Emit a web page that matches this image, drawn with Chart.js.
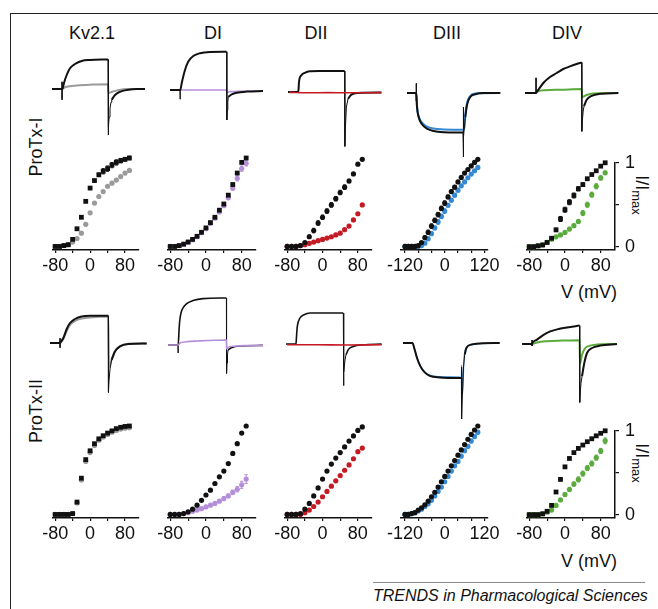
<!DOCTYPE html>
<html>
<head>
<meta charset="utf-8">
<script src="https://cdn.jsdelivr.net/npm/chart.js@4.4.1/dist/chart.umd.min.js"></script>
<style>
  html, body { margin: 0; padding: 0; background: #fff; }
  #fig { position: relative; width: 658px; height: 609px; overflow: hidden;
         font-family: "Liberation Sans", Arial, Helvetica, sans-serif; color: #111; }
  #fig canvas { position: absolute; }
  .frame { position: absolute; left: 10px; top: 13px; width: 660px; height: 610px;
           border-left: 1.5px solid #222; border-top: 1.5px solid #222; }
  .txt { position: absolute; transform: translate(-50%, -50%); white-space: nowrap; line-height: 1; font-size: 18px; }
  .rotl { transform: translate(-50%, -50%) rotate(-90deg); }
  .rotr { transform: translate(-50%, -50%) rotate(90deg); }
  .rotr sub { font-size: 13px; vertical-align: -4px; }
  .trends { position: absolute; left: 373px; top: 582px; width: 272px; border-top: 1px solid #888;
            font-style: italic; font-size: 16px; text-align: center; padding-top: 4px; white-space: nowrap; }
</style>
</head>
<body>
<div id="fig">
  <div class="frame"></div>
  <div class="txt" style="left:92px;top:33px">Kv2.1</div>
  <div class="txt" style="left:213px;top:33px">DI</div>
  <div class="txt" style="left:316px;top:33px">DII</div>
  <div class="txt" style="left:447px;top:33px">DIII</div>
  <div class="txt" style="left:567px;top:33px">DIV</div>
  <div class="txt rotl" style="left:36px;top:147px">ProTx-I</div>
  <div class="txt rotl" style="left:36px;top:411px">ProTx-II</div>
  <div class="txt rotr" style="left:640px;top:195px">I/I<sub>max</sub></div>
  <div class="txt rotr" style="left:640px;top:463px">I/I<sub>max</sub></div>
  <div class="txt" style="left:589px;top:292px">V (mV)</div>
  <div class="txt" style="left:589px;top:561px">V (mV)</div>
  <div class="trends">TRENDS in Pharmacological Sciences</div>
</div>
<script>
// test potentials (mV)
const volts = [-80, -70, -60, -50, -40, -30, -20, -10, 0, 10, 20, 30, 40, 50, 60, 70, 80, 90];
const voltsDIII = [-120, -110, -100, -90, -80, -70, -60, -50, -40, -30, -20, -10, 0, 10, 20, 30, 40, 50, 60, 70, 80, 90, 100];

// I/Imax, ProTx-I row (control = black, toxin = colour)
const kvICtrl = [0, 0, 0.01, 0.02, 0.08, 0.2, 0.33, 0.51, 0.66, 0.745, 0.81, 0.85, 0.88, 0.92, 0.95, 0.97, 0.985, 1.0];
const kvITox = [0, 0, 0.01, 0.02, 0.05, 0.09, 0.15, 0.25, 0.38, 0.49, 0.565, 0.62, 0.68, 0.715, 0.75, 0.79, 0.83, 0.86];
const kvICtrlErr = [0, 0, 0, 0, 0, 0, 0, 0, 0, 0, 0.02, 0.03, 0.03, 0.03, 0.03, 0.025, 0.02, 0.02];
const diICtrl = [0, 0, 0.01, 0.026, 0.05, 0.08, 0.115, 0.16, 0.21, 0.27, 0.33, 0.41, 0.48, 0.58, 0.70, 0.83, 0.95, 1.0];
const diITox = [0, 0, 0.01, 0.025, 0.048, 0.075, 0.11, 0.155, 0.2, 0.26, 0.32, 0.39, 0.46, 0.55, 0.66, 0.77, 0.88, 0.94];
const diIToxErr = [0, 0, 0, 0, 0, 0, 0, 0, 0, 0, 0, 0, 0.015, 0.02, 0.025, 0.03, 0.03, 0.03];
const diiICtrl = [0, 0, 0, 0.01, 0.045, 0.11, 0.18, 0.265, 0.33, 0.40, 0.47, 0.54, 0.61, 0.67, 0.74, 0.82, 0.93, 0.985];
const diiITox = [0, 0, 0, 0.01, 0.02, 0.035, 0.05, 0.065, 0.08, 0.095, 0.11, 0.13, 0.15, 0.19, 0.23, 0.30, 0.37, 0.47];
const diiICtrlErr = [0, 0, 0, 0, 0, 0.02, 0.025, 0.025, 0.025, 0.025, 0.025, 0.025, 0.025, 0.025, 0.02, 0, 0, 0];
const diiiICtrl = [0, 0, 0, 0, 0.01, 0.045, 0.10, 0.16, 0.23, 0.295, 0.36, 0.43, 0.49, 0.56, 0.62, 0.67, 0.73, 0.78, 0.83, 0.87, 0.91, 0.95, 0.985];
const diiiITox = [0, 0, 0, 0, 0, 0.01, 0.037, 0.087, 0.144, 0.21, 0.277, 0.34, 0.40, 0.466, 0.523, 0.58, 0.636, 0.686, 0.73, 0.777, 0.818, 0.856, 0.894];
const diiiICtrlErr = [0, 0, 0, 0, 0, 0, 0.02, 0.025, 0.025, 0.025, 0.025, 0.025, 0.025, 0.02, 0.02, 0.02, 0, 0, 0, 0, 0, 0, 0];
const diiiIToxErr = [0, 0, 0, 0, 0, 0, 0, 0.02, 0.02, 0.02, 0.025, 0.025, 0.025, 0.02, 0.02, 0.02, 0.02, 0, 0, 0, 0, 0, 0];
const divICtrl = [0, 0, 0.01, 0.02, 0.05, 0.1, 0.2, 0.33, 0.44, 0.53, 0.61, 0.69, 0.74, 0.81, 0.86, 0.905, 0.96, 1.0];
const divITox = [0, 0, 0.01, 0.02, 0.05, 0.088, 0.117, 0.14, 0.17, 0.21, 0.25, 0.30, 0.40, 0.50, 0.62, 0.72, 0.82, 0.88];
const divICtrlErr = [0, 0, 0, 0, 0, 0, 0.02, 0.03, 0.03, 0.03, 0.03, 0.025, 0.02, 0, 0, 0, 0, 0];
const divIToxErr = [0, 0, 0, 0, 0, 0, 0, 0, 0, 0.02, 0.02, 0.025, 0.03, 0.03, 0.03, 0.03, 0.025, 0.02];

// I/Imax, ProTx-II row
const kvIICtrl = [0, 0, 0, 0, 0.01, 0.14, 0.41, 0.62, 0.72, 0.8, 0.855, 0.89, 0.92, 0.945, 0.97, 0.985, 0.995, 1.0];
const kvIITox = [0, 0, 0, 0, 0.01, 0.13, 0.39, 0.6, 0.7, 0.78, 0.84, 0.875, 0.905, 0.93, 0.95, 0.965, 0.975, 0.98];
const diIICtrl = [0, 0, 0, 0.01, 0.03, 0.06, 0.105, 0.16, 0.22, 0.275, 0.35, 0.425, 0.49, 0.575, 0.69, 0.80, 0.92, 1.0];
const diIITox = [0, 0, 0, 0.01, 0.02, 0.035, 0.05, 0.065, 0.085, 0.105, 0.125, 0.15, 0.18, 0.21, 0.25, 0.285, 0.335, 0.40];
const diIIToxErr = [0, 0, 0, 0, 0, 0, 0, 0, 0, 0, 0, 0.015, 0.02, 0.02, 0.025, 0.03, 0.04, 0.05];
const diiIICtrl = [0, 0, 0, 0.01, 0.06, 0.125, 0.21, 0.3, 0.4, 0.49, 0.57, 0.637, 0.70, 0.764, 0.83, 0.888, 0.95, 0.99];
const diiIITox = [0, 0, 0, 0, 0.02, 0.05, 0.09, 0.14, 0.2, 0.26, 0.32, 0.38, 0.44, 0.5, 0.56, 0.63, 0.71, 0.75];
const diiiIICtrl = [0, 0, 0.01, 0.02, 0.05, 0.075, 0.11, 0.15, 0.2, 0.25, 0.31, 0.37, 0.43, 0.49, 0.55, 0.61, 0.67, 0.73, 0.79, 0.85, 0.905, 0.955, 1.0];
const diiiIITox = [0, 0, 0.01, 0.02, 0.04, 0.06, 0.09, 0.12, 0.16, 0.21, 0.26, 0.31, 0.37, 0.43, 0.49, 0.55, 0.6, 0.66, 0.72, 0.77, 0.83, 0.88, 0.93];
const diiiIIToxErr = [0, 0, 0, 0, 0, 0, 0, 0, 0, 0, 0, 0, 0, 0.015, 0.015, 0.015, 0.02, 0.02, 0.02, 0.02, 0.02, 0.02, 0.02];
const divIICtrl = [0, 0, 0, 0.01, 0.04, 0.11, 0.27, 0.42, 0.57, 0.67, 0.74, 0.79, 0.83, 0.87, 0.905, 0.94, 0.97, 1.0];
const divIITox = [0, 0, 0, 0.01, 0.03, 0.055, 0.11, 0.175, 0.24, 0.3, 0.365, 0.42, 0.49, 0.555, 0.61, 0.68, 0.76, 0.88];
const divIIToxErr = [0, 0, 0, 0, 0, 0, 0, 0, 0.02, 0.025, 0.025, 0.03, 0.03, 0.03, 0.03, 0.03, 0.03, 0.035];

// current traces: [time, relative current]; null breaks the thick line where the thin tail spike is
const kvTrICtrl = [[0, 0], [10, 0], [10.6, 0.01], [12, 0.15], [14.7, 0.35], [18, 0.52], [23, 0.625], [29.7, 0.7], [38, 0.725], [56, 0.74], [57, null], [59.7, -0.27], [63, -0.15], [68, -0.07], [75, -0.025], [85, 0], [93, 0]];
const kvTrICtrlThin = [[10, 0.18], [10.05, -0.27], [10.3, null], [56, 0.74], [56.15, -1.15], [56.6, -0.95], [57.2, -0.7], [58, -0.48], [59, -0.33], [59.7, -0.27]];
const kvTrITox = [[0, 0], [10, 0], [12, 0.03], [16, 0.06], [25, 0.09], [40, 0.11], [56, 0.12], [56.5, -0.1], [60, -0.07], [66, -0.03], [75, 0], [93, 0]];
const diTrICtrl = [[0, 0], [10.3, 0], [11.7, 0.17], [15, 0.5], [18.3, 0.71], [23.3, 0.85], [30, 0.92], [40, 0.95], [56.7, 0.955], [57.5, null], [58.3, -0.17], [61.7, -0.11], [66.7, -0.07], [76.7, -0.04], [93, -0.025]];
const diTrICtrlThin = [[10, 0], [10.05, -0.23], [10.3, 0], [10.4, null], [56.7, 0.955], [56.85, -0.75], [57.3, -0.5], [57.8, -0.3], [58.3, -0.17]];
const diTrITox = [[0, 0], [56.7, 0], [57, -0.06], [60, -0.04], [70, -0.03], [93, -0.025]];
const diiTrICtrl = [[0, 0], [10, 0], [10.5, 0.05], [11, 0.25], [13.4, 0.42], [16.7, 0.48], [21.7, 0.52], [31.7, 0.525], [56.7, 0.525], [57.5, null], [60, -0.17], [63.4, -0.065], [70, -0.025], [93.4, -0.015]];
const diiTrICtrlThin = [[56.7, 0.525], [56.85, -1.36], [57.4, -0.9], [58.4, -0.375], [60, -0.17]];
const diiTrITox = [[1, -0.01], [20, -0.02], [40, -0.015], [60, -0.02], [93.4, -0.015]];
const diiiTrICtrl = [[0, 0], [9.3, 0], [10, -0.35], [11.6, -0.6], [15, -0.78], [20, -0.89], [26.6, -0.95], [36.6, -0.98], [56, -0.99], [57, null], [58.3, -0.6], [60, -0.3], [63.3, -0.1], [68.3, -0.03], [76.6, 0], [93.3, 0]];
const diiiTrICtrlThin = [[9.3, 0.24], [9.35, -0.2], [9.6, null], [56, -0.99], [56.1, -0.35], [56.3, -1.6], [57, -1.1], [57.8, -0.75], [58.3, -0.6]];
const diiiTrITox = [[0, 0], [9.3, 0], [10, -0.33], [11.6, -0.57], [15, -0.74], [20, -0.84], [26.6, -0.89], [36.6, -0.91], [56, -0.92], [57.5, -0.85], [58.3, -0.55], [60, -0.25], [63.3, -0.07], [68.3, -0.01], [93.3, 0]];
const divTrICtrl = [[0, 0], [11, 0], [11.5, 0.02], [13.3, 0.08], [18.3, 0.25], [25, 0.4], [31.7, 0.5], [38.3, 0.6], [45, 0.665], [51.7, 0.725], [56.7, 0.765], [57.5, null], [59, -0.33], [61.7, -0.17], [66.7, -0.07], [75, -0.02], [93.3, 0]];
const divTrICtrlThin = [[11, 0.38], [11.05, 0], [11.3, null], [56.7, 0.765], [56.85, -0.96], [57.3, -0.7], [58.2, -0.45], [59, -0.33]];
const divTrITox = [[0, 0], [11, 0], [13, 0.04], [20, 0.07], [35, 0.08], [56.7, 0.1], [57, -0.1], [58.3, -0.09], [61.7, -0.05], [68, -0.015], [93.3, 0]];

const kvTrIICtrl = [[0, 0], [10, 0], [10.5, 0.02], [13.3, 0.125], [16.7, 0.35], [20, 0.5], [25, 0.6], [31.7, 0.665], [40, 0.68], [58.3, 0.68], [59, null], [61.7, -0.42], [65, -0.21], [70, -0.085], [78.3, -0.025], [96.7, -0.01]];
const kvTrIICtrlThin = [[10, 0.12], [10.05, -0.12], [10.3, null], [58.3, 0.68], [58.45, -1.235], [59, -0.95], [60, -0.65], [61.7, -0.42]];
const kvTrIITox = [[0, 0], [10, 0], [13.3, 0.1], [16.7, 0.3], [20, 0.45], [25, 0.55], [31.7, 0.61], [40, 0.64], [58.3, 0.66], [59, -0.6], [61.7, -0.4], [65, -0.2], [70, -0.08], [78.3, -0.02], [96.7, -0.01]];
const diTrIICtrl = [[0, 0], [10.2, 0], [11, 0.35], [11.7, 0.6], [13, 0.8], [14.4, 0.9], [18.4, 1.03], [25, 1.11], [35, 1.16], [58.4, 1.175], [59, null], [60, -0.125], [63.4, -0.07], [71.7, -0.025], [95, -0.01]];
const diTrIICtrlThin = [[10, 0], [10.05, -0.2], [10.2, 0], [10.3, null], [58.4, 1.175], [58.55, -0.71], [59, -0.45], [59.5, -0.25], [60, -0.125]];
const diTrIITox = [[0, 0], [10, 0], [12, 0.05], [18, 0.08], [30, 0.1], [58.4, 0.125], [58.6, -0.1], [60, -0.06], [66, -0.03], [80, -0.015], [95, -0.01]];
const diiTrIICtrl = [[0, 0], [10, 0], [10.3, 0.1], [10.8, 0.3], [11.3, 0.44], [14, 0.65], [18, 0.73], [24, 0.775], [44, 0.775], [57.3, 0.775], [58, null], [60, -0.27], [62.3, -0.14], [67.3, -0.06], [77.3, -0.02], [95.7, 0]];
const diiTrIICtrlThin = [[57.3, 0.775], [57.45, -1.04], [58, -0.7], [59, -0.4], [60, -0.27]];
const diiTrIITox = [[1, -0.02], [30, -0.02], [60, -0.025], [95.7, -0.02]];
const diiiTrIICtrl = [[0, 0], [9.4, 0], [11.7, -0.17], [14, -0.375], [17.4, -0.585], [21.7, -0.735], [26.7, -0.82], [36.7, -0.86], [56.7, -0.875], [58.4, -0.875], [59, null], [61.7, -0.29], [63.4, -0.125], [68.4, -0.04], [76.7, -0.01], [96.7, 0]];
const diiiTrIICtrlThin = [[58.4, -0.875], [58.5, -0.6], [58.7, -1.9], [59.5, -1.2], [60.5, -0.6], [61.7, -0.29]];
const diiiTrIITox = [[0, 0], [9.4, 0], [11.7, -0.16], [14, -0.36], [17.4, -0.57], [21.7, -0.72], [26.7, -0.8], [36.7, -0.84], [56.7, -0.855], [58.4, -0.86], [58.6, -0.55], [59.5, -1.3], [61, -0.4], [63.4, -0.12], [68.4, -0.03], [96.7, 0]];
const divTrIICtrl = [[0, 0], [10, 0], [10.5, 0.03], [15, 0.11], [21.6, 0.23], [28.3, 0.315], [36.6, 0.375], [45, 0.415], [57.6, 0.46], [58.5, null], [60, -0.81], [62.3, -0.475], [65, -0.225], [70, -0.1], [78.3, -0.04], [95, 0]];
const divTrIICtrlThin = [[10, 0.1], [10.05, -0.05], [10.3, null], [57.6, 0.46], [57.75, -1.46], [58.3, -1.2], [59, -0.98], [60, -0.81]];
const divTrIITox = [[0, 0], [10, 0], [15, 0.04], [25, 0.07], [40, 0.085], [57.6, 0.095], [57.9, -0.5], [60, -0.27], [63.3, -0.1], [68, -0.04], [75, -0.015], [95, 0]];

// ---- styles and placement ----
const BLACK = '#111111';
const GRAY = '#9a9a9a';
const PURPLE = '#b48ed8';
const RED = '#c41a24';
const BLUE = '#3589d4';
const GREEN = '#5aab3c';
const FONT = { family: '"Liberation Sans", Arial, Helvetica, sans-serif', size: 18 };

const ivCols = [
  { L: 53, R: 139, min: -85, max: 112, labels: [-80, 0, 80] },
  { L: 168, R: 256, min: -85, max: 112, labels: [-80, 0, 80] },
  { L: 285, R: 372, min: -85, max: 112, labels: [-80, 0, 80] },
  { L: 401, R: 488, min: -132, max: 130, labels: [-120, 0, 120] },
  { L: 527, R: 615, min: -85, max: 112, labels: [-80, 0, 80], yAxis: true }
];
const ivTop = [158, 426];     // pixel of I/Imax = 1
const ivBottom = [250, 518];  // pixel of x axis line

const traceLeft = [[52, 170, 288.3, 406.7, 525], [50, 168.3, 286, 403.3, 521.7]];
const traceBase = [[89, 90, 91.7, 92.7, 93.3], [343.3, 345, 344.3, 343.3, 344.3]];

const fig = document.getElementById('fig');

function addCanvas(left, top, w, h) {
  const c = document.createElement('canvas');
  c.width = Math.round(w);
  c.height = Math.round(h);
  c.style.left = Math.round(left) + 'px';
  c.style.top = Math.round(top) + 'px';
  fig.appendChild(c);
  return c.getContext('2d');
}

function errorPoints(xs, vals, errs, cap) {
  const pts = [];
  xs.forEach((x, i) => {
    const e = errs[i];
    if (!e) return;
    const lo = vals[i] - e, hi = vals[i] + e;
    pts.push({ x: x, y: lo }, { x: x, y: hi }, { x: x, y: null });
    pts.push({ x: x - cap, y: hi }, { x: x + cap, y: hi }, { x: x, y: null });
    pts.push({ x: x - cap, y: lo }, { x: x + cap, y: lo }, { x: x, y: null });
  });
  return pts;
}

function ivChart(col, row, xs, series) {
  const cfg = ivCols[col];
  const T = ivTop[row], B = ivBottom[row];
  const padL = 24, padT = 12, padR = cfg.yAxis ? 0 : 14, yW = cfg.yAxis ? 30 : 0, xH = 30;
  const ctx = addCanvas(cfg.L - padL, T - padT, cfg.R - cfg.L + padL + padR + yW, B - T + padT + xH);
  const cap = (cfg.max - cfg.min) / (cfg.R - cfg.L) * 1.6;
  const datasets = [];
  series.forEach(s => {
    datasets.push({
      data: xs.map((x, i) => ({ x: x, y: s.vals[i] })),
      pointStyle: s.shape,
      pointRadius: s.shape === 'rect' ? 3.4 : 2.6,
      backgroundColor: s.color,
      borderWidth: 0,
      showLine: false,
      clip: false
    });
    if (s.err) {
      datasets.push({
        data: errorPoints(xs, s.vals, s.err, cap),
        borderColor: s.color,
        borderWidth: 1,
        pointRadius: 0,
        showLine: true,
        spanGaps: false,
        clip: false
      });
    }
  });
  new Chart(ctx, {
    type: 'scatter',
    data: { datasets: datasets },
    options: {
      responsive: false,
      animation: false,
      devicePixelRatio: 1,
      layout: { padding: { left: padL, top: padT, right: padR, bottom: 0 } },
      plugins: { legend: { display: false }, tooltip: { enabled: false } },
      scales: {
        x: {
          type: 'linear', min: cfg.min, max: cfg.max,
          border: { display: true, color: BLACK, width: 1.5 },
          grid: { display: true, drawOnChartArea: false, drawTicks: true, tickLength: 3, color: BLACK, lineWidth: 1.2 },
          ticks: {
            stepSize: 40, includeBounds: false, autoSkip: false, maxRotation: 0, padding: 2,
            color: BLACK, font: FONT,
            callback: v => cfg.labels.includes(v) ? String(v) : ''
          },
          afterFit: s => { s.height = xH; }
        },
        y: cfg.yAxis ? {
          type: 'linear', position: 'right', min: -0.04, max: 1.0,
          border: { display: true, color: BLACK, width: 1.5 },
          grid: { display: true, drawOnChartArea: false, drawTicks: true, tickLength: 4, color: BLACK, lineWidth: 1.2 },
          ticks: {
            stepSize: 0.5, includeBounds: false, padding: 6, color: BLACK, font: FONT,
            callback: v => (v === 0 ? '0' : v === 1 ? '1' : '')
          },
          afterFit: s => { s.width = yW; }
        } : { display: false, min: -0.04, max: 1.0 }
      }
    }
  });
}

function traceChart(col, row, traces) {
  const left = traceLeft[row][col], base = traceBase[row][col];
  const ctx = addCanvas(left, base - 60, 100, 150);
  const datasets = traces.map(t => ({
    data: t.pts.map(p => ({ x: p[0], y: p[1] })),
    borderColor: t.color,
    borderWidth: t.width,
    pointRadius: 0,
    showLine: true,
    spanGaps: false,
    cubicInterpolationMode: t.width > 1 ? 'monotone' : 'default',
    tension: 0,
    clip: false
  }));
  new Chart(ctx, {
    type: 'scatter',
    data: { datasets: datasets },
    options: {
      responsive: false,
      animation: false,
      devicePixelRatio: 1,
      layout: { padding: 0 },
      plugins: { legend: { display: false }, tooltip: { enabled: false } },
      scales: {
        x: { type: 'linear', min: 0, max: 100, display: false },
        y: { type: 'linear', min: -2.25, max: 1.5, display: false }
      }
    }
  });
}

// ---- I-V curves ----
ivChart(0, 0, volts, [
  { vals: kvICtrl, err: kvICtrlErr, color: BLACK, shape: 'rect' },
  { vals: kvITox, color: GRAY, shape: 'circle' }]);
ivChart(1, 0, volts, [
  { vals: diICtrl, color: BLACK, shape: 'rect' },
  { vals: diITox, err: diIToxErr, color: PURPLE, shape: 'circle' }]);
ivChart(2, 0, volts, [
  { vals: diiICtrl, err: diiICtrlErr, color: BLACK, shape: 'circle' },
  { vals: diiITox, color: RED, shape: 'circle' }]);
ivChart(3, 0, voltsDIII, [
  { vals: diiiICtrl, err: diiiICtrlErr, color: BLACK, shape: 'circle' },
  { vals: diiiITox, err: diiiIToxErr, color: BLUE, shape: 'circle' }]);
ivChart(4, 0, volts, [
  { vals: divICtrl, err: divICtrlErr, color: BLACK, shape: 'rect' },
  { vals: divITox, err: divIToxErr, color: GREEN, shape: 'circle' }]);

ivChart(0, 1, volts, [
  { vals: kvIICtrl, color: BLACK, shape: 'rect' },
  { vals: kvIITox, color: GRAY, shape: 'circle' }]);
ivChart(1, 1, volts, [
  { vals: diIICtrl, color: BLACK, shape: 'circle' },
  { vals: diIITox, err: diIIToxErr, color: PURPLE, shape: 'circle' }]);
ivChart(2, 1, volts, [
  { vals: diiIICtrl, color: BLACK, shape: 'circle' },
  { vals: diiIITox, color: RED, shape: 'circle' }]);
ivChart(3, 1, voltsDIII, [
  { vals: diiiIICtrl, color: BLACK, shape: 'circle' },
  { vals: diiiIITox, err: diiiIIToxErr, color: BLUE, shape: 'circle' }]);
ivChart(4, 1, volts, [
  { vals: divIICtrl, color: BLACK, shape: 'rect' },
  { vals: divIITox, err: divIIToxErr, color: GREEN, shape: 'circle' }]);

// ---- current traces (first entry drawn on top) ----
traceChart(0, 0, [
  { pts: kvTrICtrl, color: BLACK, width: 2 }, { pts: kvTrICtrlThin, color: BLACK, width: 1 },
  { pts: kvTrITox, color: GRAY, width: 2 }]);
traceChart(1, 0, [
  { pts: diTrICtrl, color: BLACK, width: 2 }, { pts: diTrICtrlThin, color: BLACK, width: 1 },
  { pts: diTrITox, color: PURPLE, width: 1.6 }]);
traceChart(2, 0, [
  { pts: diiTrITox, color: RED, width: 1.6 },
  { pts: diiTrICtrl, color: BLACK, width: 2 }, { pts: diiTrICtrlThin, color: BLACK, width: 1 }]);
traceChart(3, 0, [
  { pts: diiiTrICtrl, color: BLACK, width: 2 }, { pts: diiiTrICtrlThin, color: BLACK, width: 1 },
  { pts: diiiTrITox, color: BLUE, width: 2 }]);
traceChart(4, 0, [
  { pts: divTrICtrl, color: BLACK, width: 2 }, { pts: divTrICtrlThin, color: BLACK, width: 1 },
  { pts: divTrITox, color: GREEN, width: 2 }]);

traceChart(0, 1, [
  { pts: kvTrIICtrl, color: BLACK, width: 2 }, { pts: kvTrIICtrlThin, color: BLACK, width: 1 },
  { pts: kvTrIITox, color: GRAY, width: 2 }]);
traceChart(1, 1, [
  { pts: diTrIITox, color: PURPLE, width: 1.6 },
  { pts: diTrIICtrl, color: BLACK, width: 1.6 }, { pts: diTrIICtrlThin, color: BLACK, width: 1 }]);
traceChart(2, 1, [
  { pts: diiTrIITox, color: RED, width: 1.6 },
  { pts: diiTrIICtrl, color: BLACK, width: 1.6 }, { pts: diiTrIICtrlThin, color: BLACK, width: 1 }]);
traceChart(3, 1, [
  { pts: diiiTrIICtrl, color: BLACK, width: 2 }, { pts: diiiTrIICtrlThin, color: BLACK, width: 1 },
  { pts: diiiTrIITox, color: BLUE, width: 1.2 }]);
traceChart(4, 1, [
  { pts: divTrIICtrl, color: BLACK, width: 2 }, { pts: divTrIICtrlThin, color: BLACK, width: 1 },
  { pts: divTrIITox, color: GREEN, width: 2 }]);
</script>
</body>
</html>
